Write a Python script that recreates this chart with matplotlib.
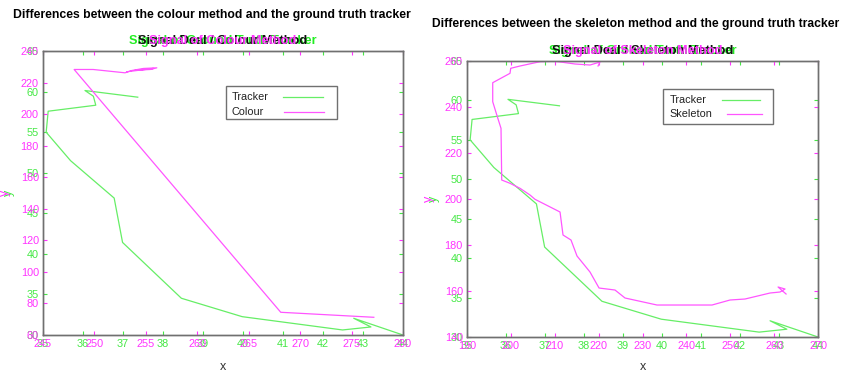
import matplotlib
matplotlib.use("Agg")
import matplotlib.pyplot as plt
from matplotlib.patches import Rectangle

plt.rcParams["font.family"] = ["Liberation Sans", "DejaVu Sans"]

# —— data —— #
# ground truth tracker (same track in both panels)
tracker_x = [37.37, 36.05, 36.26, 36.32, 35.13, 35.08, 35.69, 36.78, 36.99,
             38.46, 39.98, 42.49, 43.20, 42.77, 44.00]
tracker_y = [59.32, 60.14, 59.44, 58.33, 57.59, 55.00, 51.49, 46.88, 41.41,
             34.53, 32.26, 30.62, 30.99, 32.06, 30.00]

# colour method
colour_x = [277.17, 268.12, 248.03, 249.88, 252.98, 253.63, 254.77, 256.07,
            255.42, 253.95, 255.74, 253.14]
colour_y = [71.22, 74.40, 228.35, 228.35, 226.24, 227.70, 229.00, 229.40,
            228.35, 227.90, 229.00, 226.90]

# skeleton method
skeleton_x = [219.86, 220.31, 218.03, 214.62, 210.06, 206.64, 202.08, 199.96,
              199.80, 195.86, 195.86, 196.91, 197.75, 197.91, 199.80, 202.08,
              204.36, 205.50, 211.20, 211.88, 213.70, 215.07, 218.03, 220.09,
              223.73, 226.01, 233.30, 245.84, 249.94, 253.36, 259.06, 261.34,
              262.48, 260.89, 262.71]
skeleton_y = [257.83, 259.57, 258.26, 258.70, 259.90, 259.70, 257.83, 256.83,
              254.65, 250.57, 242.30, 235.78, 230.73, 208.26, 206.83, 204.65,
              201.74, 199.87, 194.35, 184.35, 182.17, 175.22, 168.26, 161.30,
              160.43, 156.96, 153.91, 153.91, 156.09, 156.52, 159.13, 159.57,
              160.87, 161.74, 158.70]

green = "#44e844"
magenta = "#ff33ff"
line_green = "#66ee66"
line_magenta = "#ff55ff"
frame = "#707070"

fig = plt.figure(figsize=(8.41, 3.75), dpi=100)


def style_axis(ax, color, xticks, yticks, xlim, ylim):
    ax.set_xlim(xlim)
    ax.set_ylim(ylim)
    ax.set_xticks(xticks)
    ax.set_yticks(yticks)
    ax.tick_params(direction="in", length=3, width=0.8, color=color,
                   labelcolor=color, labelsize=7.8, pad=3,
                   top=True, right=True)
    for s in ax.spines.values():
        s.set_color(frame)
        s.set_linewidth(1.0)


def key(ax, box, text_x, rows, labels, lines):
    # gnuplot style key: text on the left, sample line on the right
    x0, y0, x1, y1 = box
    ax.add_patch(Rectangle((x0, y0), x1 - x0, y1 - y0, transform=ax.transAxes,
                           fill=False, edgecolor=frame, lw=1.0, zorder=5))
    for y, lab, (lx0, lx1), col in zip(rows, labels, lines, [line_green, line_magenta]):
        ax.text(text_x, y, lab, transform=ax.transAxes, ha="left", va="center",
                fontsize=7.8, color="#222222", zorder=6)
        ax.plot([lx0, lx1], [y, y], transform=ax.transAxes, color=col, lw=0.9,
                zorder=6)


def panel(rect, mx, my, mxlim, mylim, mxticks, myticks, mtitle, black_title, xlab_y):
    ax_g = fig.add_axes(rect, label=mtitle + "_g")
    ax_m = fig.add_axes(rect, label=mtitle + "_m")
    ax_m.patch.set_alpha(0)

    style_axis(ax_g, green, range(35, 45), range(30, 66, 5), (35, 44), (30, 65))
    style_axis(ax_m, magenta, mxticks, myticks, mxlim, mylim)

    ax_g.plot(tracker_x, tracker_y, color=line_green, lw=0.9)
    ax_m.plot(mx, my, color=line_magenta, lw=0.9)

    ax_g.set_title("Signal of Ground Truth Tracker", color="#22ee22",
                   fontsize=9.2, fontweight="bold", pad=5)
    ax_m.set_title(mtitle, color=magenta, fontsize=9.2, fontweight="bold", pad=5)
    ax_m.annotate(black_title, (0.5, 1.0), xycoords="axes fraction",
                  xytext=(0, 5), textcoords="offset points", ha="center",
                  va="baseline", fontsize=9.2, fontweight="bold", color="#111111")

    ax_g.set_xlabel("x", fontsize=9, color="#333333")
    ax_g.set_ylabel("y", fontsize=9, color=green)
    ax_m.set_ylabel("y", fontsize=9, color=magenta)
    ax_g.xaxis.set_label_coords(0.5, xlab_y)
    ax_g.yaxis.set_label_coords(-0.078, 0.5)
    ax_m.yaxis.set_label_coords(-0.09, 0.5)
    return ax_g, ax_m


# —— left: colour method —— #
ax_g, ax_m = panel([0.0511, 0.1067, 0.428, 0.757], colour_x, colour_y,
                   (245, 280), (60, 240), range(245, 281, 5), range(60, 241, 20),
                   "Signal of Colour Method", "Signal Deal / Colour Method", -0.092)
key(ax_m, (0.508, 0.761, 0.817, 0.877), 0.525, [0.837, 0.786],
    ["Tracker", "Colour"], [(0.667, 0.778), (0.670, 0.781)])
fig.text(0.0155, 0.96, "Differences between the colour method and the ground truth tracker",
         fontsize=8.8, fontweight="bold", va="center")

# —— right: skeleton method —— #
ax_g, ax_m = panel([0.5553, 0.1013, 0.4174, 0.736], skeleton_x, skeleton_y,
                   (190, 270), (140, 260), range(190, 271, 10), range(140, 261, 20),
                   "Signal of Skeleton Method", "Signal Deal / Skeleton Method", -0.087)
key(ax_m, (0.559, 0.771, 0.873, 0.899), 0.576, [0.859, 0.808],
    ["Tracker", "Skeleton"], [(0.727, 0.835), (0.740, 0.840)])
fig.text(0.5137, 0.935, "Differences between the skeleton method and the ground truth tracker",
         fontsize=8.7, fontweight="bold", va="center")

fig.savefig("out.png", dpi=100)
